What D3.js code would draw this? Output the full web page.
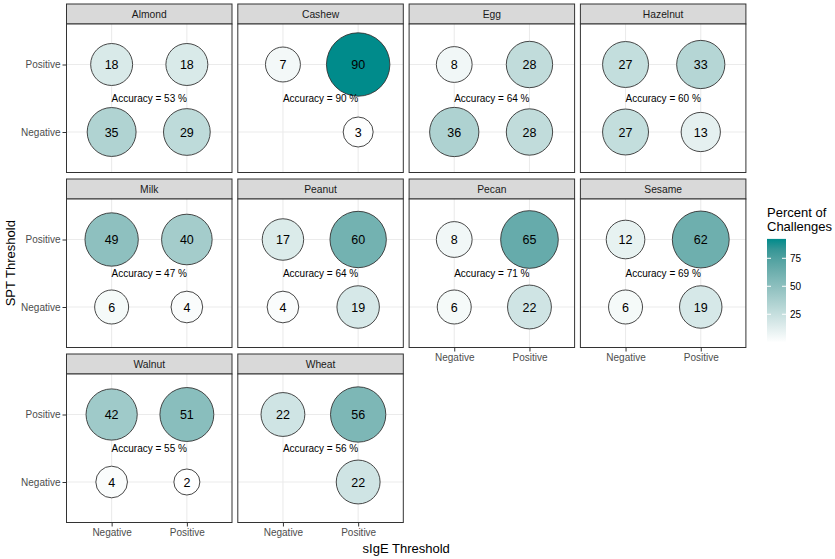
<!DOCTYPE html>
<html lang="en">
<head>
<meta charset="utf-8">
<title>Allergen challenges</title>
<script src="https://cdn.jsdelivr.net/npm/d3@7"></script>
<style>
body { margin: 0; background: #fff; }
text { font-family: "Liberation Sans", Arial, sans-serif; }
</style>
</head>
<body>
<script>
// data
var foods = ["Almond", "Cashew", "Egg", "Hazelnut", "Milk", "Peanut", "Pecan", "Sesame", "Walnut", "Wheat"];
var sigeLevels = ["Negative", "Positive"];
var sptLevels = ["Positive", "Negative"];
// cell values (percent of challenges), one per food
var sptPosSigeNeg = [18, 7, 8, 27, 49, 17, 8, 12, 42, 22];
var sptPosSigePos = [18, 90, 28, 33, 40, 60, 65, 62, 51, 56];
var sptNegSigeNeg = [35, null, 36, 27, 6, 4, 6, 6, 4, null];
var sptNegSigePos = [29, 3, 28, 13, 4, 19, 22, 19, 2, 22];
var accuracy = [53, 90, 64, 60, 47, 64, 71, 69, 55, 56];
var legendTicks = [25, 50, 75];

var w = 835, h = 559;
var ncol = 4;
var padLeft = 66.5, padTop = 4;
var pw = 165.5, colStep = 171.3;
var stripH = 20, bodyH = 148.5, rowStep = 175;

var cells = [];
foods.forEach(function(f, i) {
    [[sptPosSigeNeg, "Positive", "Negative"],
     [sptPosSigePos, "Positive", "Positive"],
     [sptNegSigeNeg, "Negative", "Negative"],
     [sptNegSigePos, "Negative", "Positive"]].forEach(function(c) {
        if (c[0][i] != null) cells.push({food: i, value: c[0][i], spt: c[1], sige: c[2]});
    });
});

var allVals = cells.map(function(d) { return d.value; });
var ext = d3.extent(allVals);

var x = d3.scalePoint().domain(sigeLevels).range([0, pw]).padding(0.6);
var y = d3.scalePoint().domain(sptLevels).range([0, bodyH]).padding(0.6);

var norm = d3.scaleLinear().domain(ext).range([0, 1]);
var rScale = d3.scaleLinear().domain([0, 1]).range([13, 31.7]);
function radius(v) { return rScale(Math.sqrt(norm(v))); }

var color = d3.scaleLinear().domain(ext).range(["#ffffff", "#008b8b"]).interpolate(d3.interpolateLab);

var svg = d3.select("body").append("svg")
    .attr("width", w)
    .attr("height", h);

var panels = svg.selectAll("g.panel")
    .data(foods)
    .enter()
    .append("g")
    .attr("class", "panel")
    .attr("transform", function(d, i) {
        return "translate(" + (padLeft + (i % ncol) * colStep) + "," + (padTop + Math.floor(i / ncol) * rowStep) + ")";
    });

// strip
panels.append("rect")
    .attr("x", 0).attr("y", 0)
    .attr("width", pw).attr("height", stripH)
    .attr("fill", "#d9d9d9")
    .attr("stroke", "#333333")
    .attr("stroke-width", 1);
panels.append("text")
    .attr("x", pw / 2).attr("y", stripH / 2)
    .attr("dy", "0.35em")
    .attr("text-anchor", "middle")
    .attr("font-size", "10.3px")
    .attr("fill", "#1a1a1a")
    .text(function(d) { return d; });

var body = panels.append("g")
    .attr("transform", "translate(0," + stripH + ")");

body.append("rect")
    .attr("width", pw).attr("height", bodyH)
    .attr("fill", "#fff");

// grid
body.selectAll("line.gx")
    .data(sigeLevels).enter().append("line")
    .attr("x1", function(d) { return x(d); }).attr("x2", function(d) { return x(d); })
    .attr("y1", 0).attr("y2", bodyH)
    .attr("stroke", "#ebebeb").attr("stroke-width", 1.1);
body.selectAll("line.gy")
    .data(sptLevels).enter().append("line")
    .attr("y1", function(d) { return y(d); }).attr("y2", function(d) { return y(d); })
    .attr("x1", 0).attr("x2", pw)
    .attr("stroke", "#ebebeb").attr("stroke-width", 1.1);

// circles
body.each(function(f, i) {
    var g = d3.select(this);
    var data = cells.filter(function(c) { return c.food === i; });
    g.selectAll("circle")
        .data(data).enter().append("circle")
        .attr("cx", function(d) { return x(d.sige); })
        .attr("cy", function(d) { return y(d.spt); })
        .attr("r", function(d) { return radius(d.value); })
        .attr("fill", function(d) { return color(d.value); })
        .attr("stroke", "#333333")
        .attr("stroke-width", 0.9);
    g.selectAll("text.val")
        .data(data).enter().append("text")
        .attr("class", "val")
        .attr("x", function(d) { return x(d.sige); })
        .attr("y", function(d) { return y(d.spt); })
        .attr("dy", "0.36em")
        .attr("text-anchor", "middle")
        .attr("font-size", "12.5px")
        .attr("fill", "#000")
        .text(function(d) { return d.value; });
    g.append("text")
        .attr("x", pw / 2)
        .attr("y", bodyH / 2)
        .attr("dy", "0.35em")
        .attr("text-anchor", "middle")
        .attr("font-size", "10px")
        .attr("fill", "#000")
        .text("Accuracy = " + accuracy[i] + " %");
});

// border
body.append("rect")
    .attr("width", pw).attr("height", bodyH)
    .attr("fill", "none")
    .attr("stroke", "#333333")
    .attr("stroke-width", 1);

// axes
function styleAxis(sel) {
    sel.select(".domain").remove();
    sel.attr("font-family", "Liberation Sans, Arial, sans-serif").attr("font-size", 10);
    sel.selectAll(".tick line").attr("stroke", "#333333").attr("stroke-width", 1);
    sel.selectAll(".tick text").attr("fill", "#4d4d4d");
}

body.filter(function(d, i) { return i % ncol === 0; })
    .append("g")
    .call(d3.axisLeft(y).tickSize(4).tickPadding(2))
    .call(styleAxis);

body.filter(function(d, i) { return i + ncol >= foods.length; })
    .append("g")
    .attr("transform", "translate(0," + bodyH + ")")
    .call(d3.axisBottom(x).tickSize(4).tickPadding(2))
    .call(styleAxis);

// axis titles
var panelsRight = padLeft + (ncol - 1) * colStep + pw;
var panelsBottom = padTop + 2 * rowStep + stripH + bodyH;
svg.append("text")
    .attr("x", (padLeft + panelsRight) / 2)
    .attr("y", 553)
    .attr("text-anchor", "middle")
    .attr("font-size", "13px")
    .attr("fill", "#000")
    .text("sIgE Threshold");
svg.append("text")
    .attr("transform", "translate(15," + (padTop + panelsBottom) / 2 + ") rotate(-90)")
    .attr("text-anchor", "middle")
    .attr("font-size", "13px")
    .attr("fill", "#000")
    .text("SPT Threshold");

// legend
var lx = 767, barW = 19;
var ly = d3.scaleLinear().domain(ext).range([340, 241.5]);
var half = 2.6;
var defs = svg.append("defs");
var grad = defs.append("linearGradient")
    .attr("id", "lg")
    .attr("x1", "0").attr("y1", "1").attr("x2", "0").attr("y2", "0");
d3.range(0, 1.0001, 0.1).forEach(function(t) {
    var v = ext[0] + t * (ext[1] - ext[0]);
    grad.append("stop").attr("offset", t).attr("stop-color", color(v));
});
var leg = svg.append("g");
leg.append("rect")
    .attr("x", lx)
    .attr("y", ly(ext[1]) - half)
    .attr("width", barW)
    .attr("height", ly(ext[0]) - ly(ext[1]) + 2 * half)
    .attr("fill", "url(#lg)");
leg.selectAll("line.tl")
    .data(legendTicks).enter().append("line")
    .attr("x1", lx).attr("x2", lx + 4)
    .attr("y1", function(d) { return ly(d); }).attr("y2", function(d) { return ly(d); })
    .attr("stroke", "#fff").attr("stroke-width", 1);
leg.selectAll("line.tr")
    .data(legendTicks).enter().append("line")
    .attr("x1", lx + barW - 4).attr("x2", lx + barW)
    .attr("y1", function(d) { return ly(d); }).attr("y2", function(d) { return ly(d); })
    .attr("stroke", "#fff").attr("stroke-width", 1);
leg.selectAll("text.tk")
    .data(legendTicks).enter().append("text")
    .attr("x", lx + barW + 4)
    .attr("y", function(d) { return ly(d); })
    .attr("dy", "0.35em")
    .attr("font-size", "10px")
    .attr("fill", "#000")
    .text(function(d) { return d; });
leg.selectAll("text.ttl")
    .data(["Percent of", "Challenges"]).enter().append("text")
    .attr("x", lx)
    .attr("y", function(d, i) { return 217 + i * 14; })
    .attr("font-size", "13px")
    .attr("fill", "#000")
    .text(function(d) { return d; });
</script>
</body>
</html>
